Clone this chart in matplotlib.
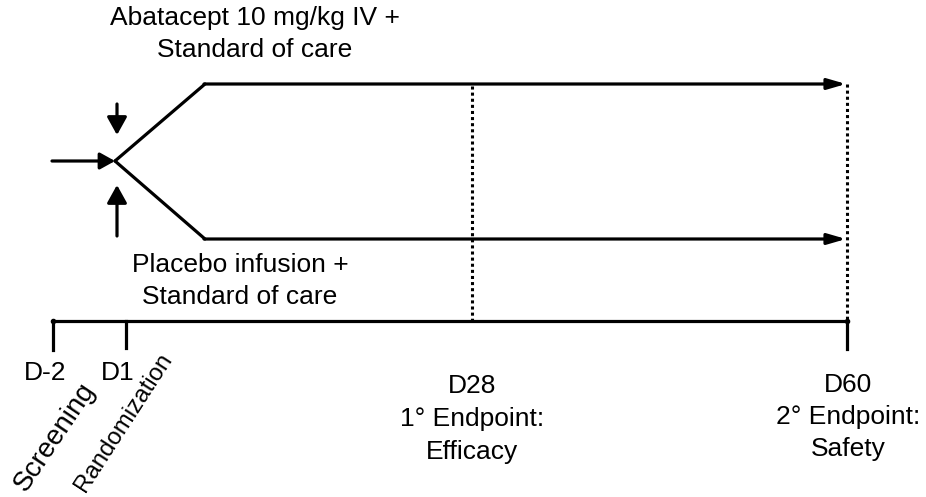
import matplotlib
matplotlib.use("Agg")
import matplotlib.pyplot as plt

plt.rcParams['font.family'] = ['Liberation Sans', 'DejaVu Sans']

# Timeline data (x positions in diagram units = pixels)
day_labels = ["D-2", "D1", "D28", "D60"]
day_x = [53, 126, 472, 847]
endpoint_labels = ["", "", "1° Endpoint:\nEfficacy", "2° Endpoint:\nSafety"]
phase_labels = ["Screening", "Randomization"]
arm_labels = ["Abatacept 10 mg/kg IV +\nStandard of care",
              "Placebo infusion +\nStandard of care"]
arm_y = [84, 239]

fig = plt.figure(figsize=(9.26, 4.97), dpi=100)
ax = fig.add_axes([0, 0, 1, 1])
ax.set_xlim(0, 926)
ax.set_ylim(497, 0)
ax.axis('off')

lw = 2.3
tl_y = 321
split = (115, 161)

# timeline
ax.plot([day_x[0], day_x[-1]], [tl_y, tl_y], color='black', lw=lw, solid_capstyle='butt')
ax.plot([day_x[0], day_x[-1]], [tl_y, tl_y], 'o', color='black', ms=3)
for x, bottom in zip([day_x[0], day_x[1], day_x[3]], [350, 348, 349]):
    ax.plot([x, x], [tl_y, bottom], color='black', lw=lw)

# dotted verticals
ax.plot([day_x[2], day_x[2]], [86, tl_y], color='black', lw=2.2, ls=(0, (1, 1)))
ax.plot([day_x[3], day_x[3]], [arm_y[0], tl_y], color='black', lw=2.2, ls=(0, (1, 1)))

def akw(hl, hw):
    return dict(arrowstyle=f'-|>,head_length={hl},head_width={hw}', color='black', lw=lw,
                shrinkA=0, shrinkB=0, mutation_scale=20)

# entry arrow
ax.annotate('', xy=split, xytext=(52, split[1]), arrowprops=akw(0.45, 0.25))
# down / up arrows
ax.annotate('', xy=(117, 135), xytext=(117, 104), arrowprops=akw(0.54, 0.3))
ax.annotate('', xy=(117, 185), xytext=(117, 236), arrowprops=akw(0.54, 0.3))

# branches
for y in arm_y:
    ax.plot([split[0], 205], [split[1], y], color='black', lw=lw, solid_capstyle='round')
    ax.annotate('', xy=(846, y), xytext=(204, y), arrowprops=akw(0.55, 0.16))

fs = 19
ax.text(255, 34, arm_labels[0], ha='center', va='center', fontsize=fs, linespacing=1.42)
ax.text(240, 281, arm_labels[1], ha='center', va='center', fontsize=fs, linespacing=1.37)

# day labels
ax.text(45, 373, day_labels[0], ha='center', va='center', fontsize=fs)
ax.text(118, 373, day_labels[1], ha='center', va='center', fontsize=fs)
ax.text(day_x[2], 419, day_labels[2] + "\n" + endpoint_labels[2], ha='center', va='center',
        fontsize=fs, linespacing=1.48)
ax.text(day_x[3] + 1, 417, day_labels[3] + "\n" + endpoint_labels[3], ha='center', va='center',
        fontsize=fs, linespacing=1.42)

# rotated phase labels
ax.text(55, 437, phase_labels[0], ha='center', va='center', fontsize=20, rotation=56,
        rotation_mode='anchor')
ax.text(124, 423, phase_labels[1], ha='center', va='center', fontsize=17.3, rotation=57,
        rotation_mode='anchor')

fig.savefig('out.png', dpi=100)
